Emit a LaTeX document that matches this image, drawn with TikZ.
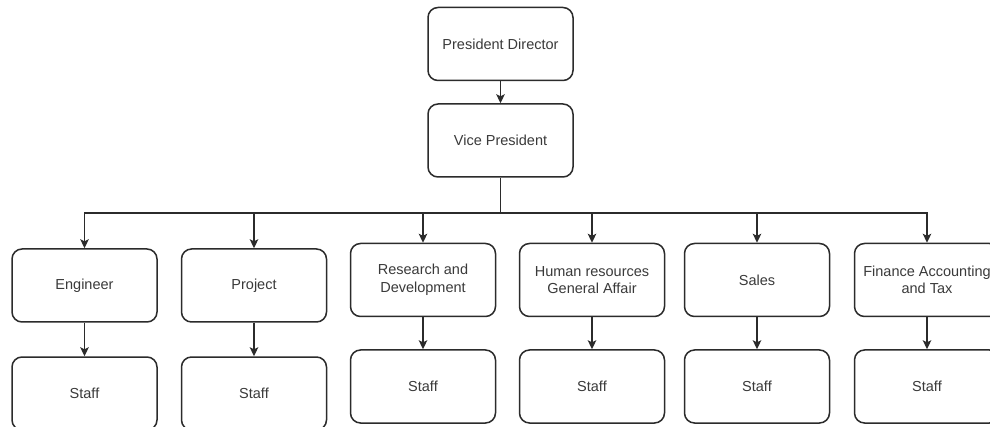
\documentclass[tikz,border=0pt]{standalone}
\usepackage{fontspec}
\setmainfont{Liberation Sans}
\usetikzlibrary{arrows.meta}
\definecolor{ink}{HTML}{2B2B2B}
\definecolor{txt}{HTML}{3A3A3A}
\tikzset{
  box/.style={draw=ink, line width=1.5pt, rounded corners=10pt, minimum width=145pt, minimum height=73pt,
    align=center, text=txt, font=\fontsize{14.5}{17.5}\selectfont, inner sep=2pt},
  arr/.style={draw=ink, line width=1.5pt, -{Stealth[length=9pt,width=8.5pt,inset=2pt]}},
  ln/.style={draw=ink, line width=1.5pt}
}
\begin{document}
\begin{tikzpicture}[x=1pt,y=-1pt]
\useasboundingbox (0,0) rectangle (990,427);
\fill[white] (0,0) rectangle (990,427);
\node[box] (pd) at (500.5,44) {President Director};
\node[box] (vp) at (500.5,140.5) {Vice President};
\node[box] (eng) at (84.5,285.5) {Engineer};
\node[box] (proj) at (254,285.5) {Project};
\node[box] (rd) at (423,280) {Research and\\Development};
\node[box] (hr) at (592,280) {Human resources\\General Affair};
\node[box] (sal) at (757,280) {Sales};
\node[box] (fin) at (927,280) {Finance Accounting\\and Tax};
\node[box] (s1) at (84.5,393.5) {Staff};
\node[box] (s2) at (254,393.5) {Staff};
\node[box] (s3) at (423,386.5) {Staff};
\node[box] (s4) at (592,386.5) {Staff};
\node[box] (s5) at (757,386.5) {Staff};
\node[box] (s6) at (927,386.5) {Staff};
\coordinate (bus) at (500.5,213);
\draw[arr] (pd) -- (vp);
\draw[ln] (vp.south) -- (bus);
\foreach \n in {eng,proj,rd,hr,sal,fin}{
  \draw[arr] (bus) -| (\n.north);
}
\draw[arr] (eng) -- (s1);
\draw[arr] (proj) -- (s2);
\draw[arr] (rd) -- (s3);
\draw[arr] (hr) -- (s4);
\draw[arr] (sal) -- (s5);
\draw[arr] (fin) -- (s6);
\end{tikzpicture}
\end{document}
